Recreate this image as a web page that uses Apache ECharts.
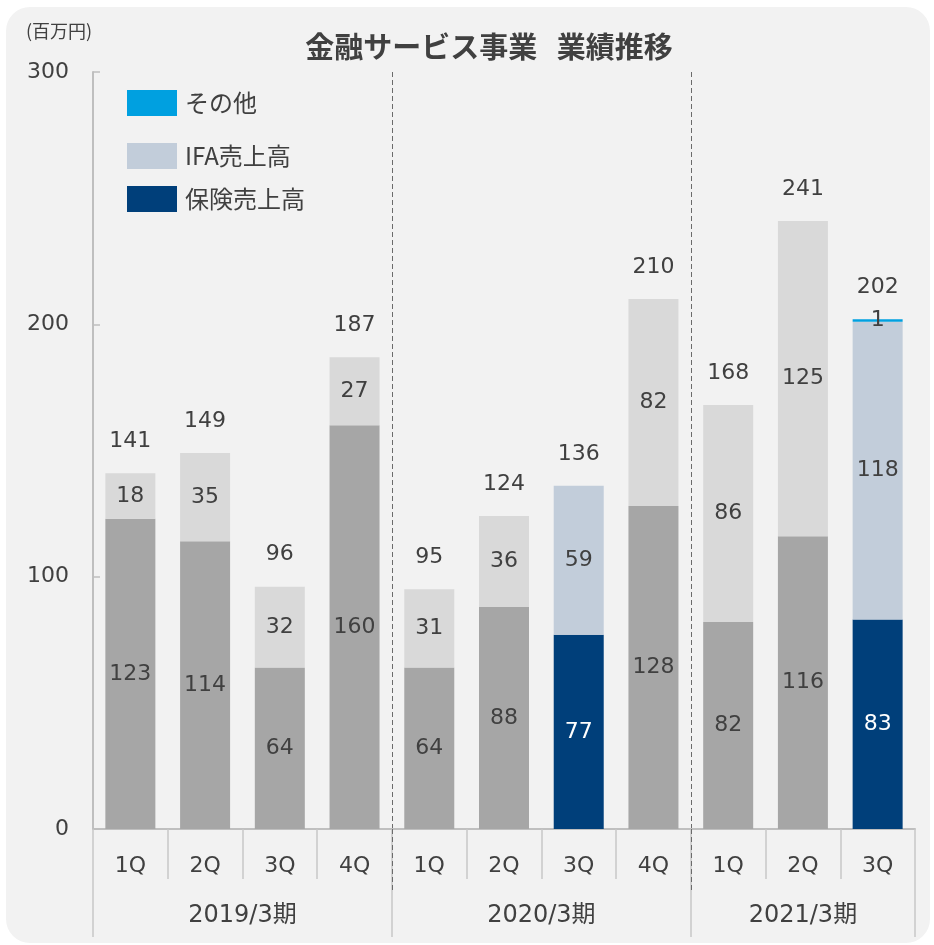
<!DOCTYPE html>
<html>
<head>
<meta charset="utf-8">
<script src="https://cdn.jsdelivr.net/npm/echarts@6/dist/echarts.min.js"></script>
<style>
  html, body { margin: 0; padding: 0; background: #ffffff; }
  #panel { position: absolute; left: 6px; top: 7px; width: 924px; height: 936px; background: #f2f2f2; border-radius: 24px; }
  #chart { position: absolute; left: 0; top: 0; width: 934px; height: 945px; }
</style>
</head>
<body>
<div id="panel"></div>
<div id="chart"></div>
<script>
// Quarters and fiscal-year groups
const quarters = ['1Q', '2Q', '3Q', '4Q', '1Q', '2Q', '3Q', '4Q', '1Q', '2Q', '3Q'];
const fiscalYears = ['2019/3期', '2020/3期', '2021/3期'];
const quartersPerYear = [4, 4, 3];

// Revenue by segment (million yen)
const insurance = [123, 114, 64, 160, 64, 88, 77, 128, 82, 116, 83];
const ifa       = [18, 35, 32, 27, 31, 36, 59, 82, 86, 125, 118];
const other     = [0, 0, 0, 0, 0, 0, 0, 0, 0, 0, 1];
const totals    = [141, 149, 96, 187, 95, 124, 136, 210, 168, 241, 202];

// Quarters drawn in the segment colours (the rest are shown in grey)
const highlighted = [false, false, false, false, false, false, true, false, false, false, true];

const yTicks = { min: 0, max: 300, interval: 100 };

const TEXT = '#404040';
const FONT = '"DejaVu Sans", "Noto Sans CJK JP", sans-serif';
const CJK = '"Noto Sans CJK JP", "DejaVu Sans", sans-serif';

// Secondary axis runs over the half-quarter boundaries: point k sits at k/22 of the width
const halfSteps = quarters.length * 2;
const groupPoints = [];
for (let i = 0; i <= halfSteps; i++) groupPoints.push('');
const groupBounds = [0];
const groupCentres = {};
let acc = 0;
quartersPerYear.forEach((n, g) => {
  groupCentres[acc * 2 + n] = fiscalYears[g];
  acc += n;
  groupBounds.push(acc * 2);
});
const innerBounds = groupBounds.slice(1, -1);

const chart = echarts.init(document.getElementById('chart'));

const segLabel = () => ({
  show: true,
  position: 'inside',
  fontFamily: FONT,
  fontSize: 22,
  color: TEXT,
  formatter: (p) => (p.value ? String(p.value) : '')
});

chart.setOption({
  backgroundColor: 'transparent',
  animation: false,
  title: [
    {
      text: '金融サービス事業   業績推移',
      left: 484,
      textAlign: 'center',
      top: 27,
      textStyle: { fontFamily: CJK, fontSize: 29, fontWeight: 'bold', color: TEXT }
    },
    {
      text: '(百万円)',
      left: 21,
      top: 17,
      textStyle: { fontFamily: CJK, fontSize: 18, fontWeight: 'normal', color: TEXT }
    }
  ],
  legend: [
    { data: ['その他'], top: 90 },
    { data: ['IFA売上高'], top: 143 },
    { data: ['保険売上高'], top: 186 }
  ].map((l) => Object.assign({
    left: 127,
    padding: 0,
    orient: 'vertical',
    icon: 'rect',
    itemWidth: 50,
    itemHeight: 26,
    selectedMode: false,
    textStyle: { fontFamily: CJK, fontSize: 24, color: TEXT, padding: [0, 0, 0, 3] }
  }, l)),
  grid: { left: 93, right: 19, top: 72, bottom: 116 },
  xAxis: [
    {
      type: 'category',
      data: quarters,
      position: 'bottom',
      axisLine: { show: true, lineStyle: { color: '#bfbfbf', width: 2 } },
      axisTick: { show: true, length: 50, lineStyle: { color: '#c8c8c8', width: 1.5 } },
      axisLabel: { margin: 26, fontFamily: FONT, fontSize: 22, color: TEXT }
    },
    {
      type: 'category',
      data: groupPoints,
      boundaryGap: false,
      position: 'bottom',
      offset: 0,
      axisLine: { show: false },
      axisTick: {
        show: true,
        length: 108,
        interval: (i) => groupBounds.indexOf(i) >= 0,
        lineStyle: { color: '#c8c8c8', width: 1.5 }
      },
      axisLabel: {
        show: true,
        margin: 75,
        interval: (i) => groupCentres[i] !== undefined,
        formatter: (v, i) => groupCentres[i] || '',
        fontFamily: FONT,
        fontSize: 24,
        color: TEXT
      },
      splitLine: { show: false }
    },
    {
      type: 'category',
      data: groupPoints,
      boundaryGap: false,
      position: 'bottom',
      offset: 0,
      axisLine: { show: false },
      axisLabel: { show: false },
      axisTick: {
        show: true,
        length: 64,
        interval: (i) => innerBounds.indexOf(i) >= 0,
        lineStyle: { color: '#6b6b6b', width: 1, type: [5, 3] }
      },
      splitLine: {
        show: true,
        interval: (i) => innerBounds.indexOf(i) >= 0,
        lineStyle: { color: '#6b6b6b', width: 1, type: [5, 3] }
      }
    }
  ],
  yAxis: {
    type: 'value',
    min: yTicks.min,
    max: yTicks.max,
    interval: yTicks.interval,
    axisLine: { show: true, lineStyle: { color: '#bfbfbf', width: 2 } },
    axisTick: { show: true, inside: true, length: 7, lineStyle: { color: '#bfbfbf', width: 1.5 } },
    axisLabel: { margin: 24, fontFamily: FONT, fontSize: 22, color: TEXT },
    splitLine: { show: false }
  },
  series: [
    {
      name: '保険売上高',
      type: 'bar',
      stack: 'rev',
      barWidth: 50,
      itemStyle: { color: '#003f7a' },
      data: insurance.map((v, i) => ({
        value: v,
        itemStyle: { color: highlighted[i] ? '#003f7a' : '#a6a6a6' },
        label: { color: highlighted[i] ? '#ffffff' : TEXT }
      })),
      label: segLabel()
    },
    {
      name: 'IFA売上高',
      type: 'bar',
      stack: 'rev',
      barWidth: 50,
      itemStyle: { color: '#c2cdda' },
      data: ifa.map((v, i) => ({
        value: v,
        itemStyle: { color: highlighted[i] ? '#c2cdda' : '#d9d9d9' }
      })),
      label: segLabel()
    },
    {
      name: 'その他',
      type: 'bar',
      stack: 'rev',
      barWidth: 50,
      itemStyle: { color: '#00a0e0' },
      data: other,
      label: segLabel()
    },
    {
      name: '合計',
      type: 'bar',
      stack: 'rev',
      barWidth: 50,
      itemStyle: { color: 'transparent' },
      data: totals.map(() => 0),
      label: {
        show: true,
        position: 'top',
        distance: 21,
        fontFamily: FONT,
        fontSize: 22,
        color: TEXT,
        formatter: (p) => String(totals[p.dataIndex])
      }
    }
  ]
});
</script>
</body>
</html>
